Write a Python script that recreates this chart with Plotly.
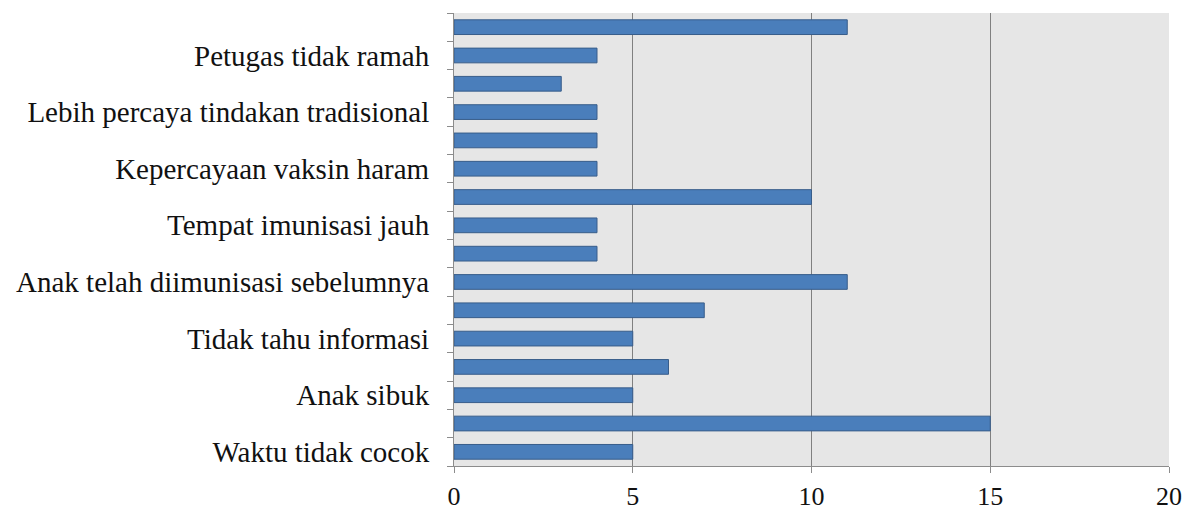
import plotly.graph_objects as go

# bottom to top
positions = list(range(16))
values = [5, 15, 5, 6, 5, 7, 11, 4, 4, 10, 4, 4, 4, 3, 4, 11]
label_positions = [0, 2, 4, 6, 8, 10, 12, 14]
labels = ["Waktu tidak cocok", "Anak sibuk", "Tidak tahu informasi",
          "Anak telah diimunisasi sebelumnya", "Tempat imunisasi jauh",
          "Kepercayaan vaksin haram", "Lebih percaya tindakan tradisional",
          "Petugas tidak ramah"]
boundaries = [p - 0.5 for p in positions] + [15.5]
x_ticks = [0, 5, 10, 15, 20]

fig = go.Figure(go.Bar(
    x=values, y=positions, orientation="h", width=0.52,
    marker=dict(color="#4a7ebb", line=dict(color="#385d8a", width=1)),
))

yfont = dict(family="Liberation Serif, Times New Roman, serif", size=29, color="#111111")
xfont = dict(family="Liberation Serif, Times New Roman, serif", size=26, color="#111111")

fig.update_layout(
    width=1198, height=515,
    margin=dict(l=454, r=29, t=13, b=49),
    paper_bgcolor="white", plot_bgcolor="#e6e6e6",
    showlegend=False, font=yfont,
)
fig.update_xaxes(
    range=[0, 20], tickvals=x_ticks, showgrid=True, gridcolor="#808080", gridwidth=1,
    showline=True, linecolor="#8c8c8c", linewidth=1, ticks="outside", ticklen=6,
    tickcolor="#8c8c8c", zeroline=False, tickfont=xfont, ticklabelstandoff=1,
    automargin=False,
)
fig.update_yaxes(
    range=[-0.5, 15.5], tickvals=label_positions, ticktext=labels, ticks="",
    showgrid=False, zeroline=False, showline=True, linecolor="#8c8c8c", linewidth=1,
    tickfont=yfont, ticklabelstandoff=18, automargin=False,
    minor=dict(tickvals=boundaries, ticks="outside", ticklen=6, tickcolor="#8c8c8c", showgrid=False),
)

fig.write_html("out.html")
